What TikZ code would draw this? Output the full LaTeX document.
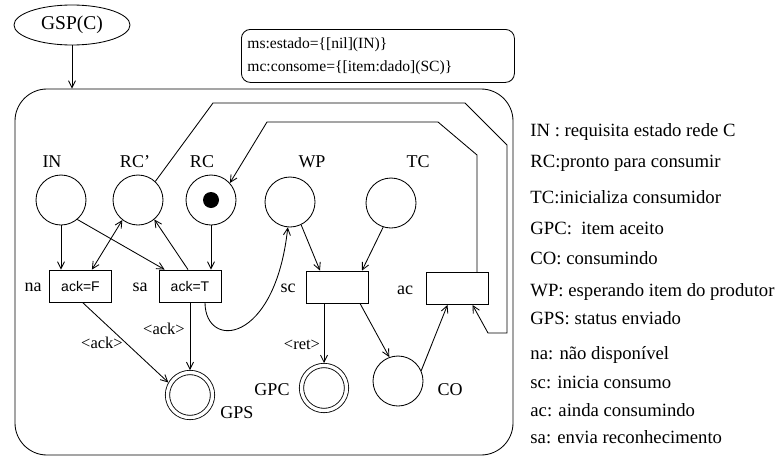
\documentclass[tikz,border=0pt]{standalone}
\usepackage{fontspec}
\setmainfont{Liberation Serif}
\setsansfont{Liberation Sans}
\usetikzlibrary{arrows.meta,calc,shapes.geometric}
\begin{document}
\begin{tikzpicture}[x=1pt,y=-1pt,line width=0.85pt,
  place/.style={circle,draw,minimum size=50pt,inner sep=0pt},
  final/.style={circle,draw,double,double distance=3.4pt,minimum size=45pt,inner sep=0pt,outer sep=2.5pt},
  trans/.style={rectangle,draw,minimum width=62pt,minimum height=32pt,inner sep=0pt,
    font=\sffamily\fontsize{14}{16}\selectfont},
  lbl/.style={font=\fontsize{18}{20}\selectfont,inner sep=0pt},
  arclbl/.style={font=\fontsize{16.5}{18}\selectfont,inner sep=0pt},
  legend/.style={anchor=west,font=\fontsize{18.7}{21}\selectfont,inner sep=0pt},
  arc/.style={-{Straight Barb[length=7pt,width=7pt]}},
  biarc/.style={{Straight Barb[length=7pt,width=7pt]}-{Straight Barb[length=7pt,width=7pt]}},
]
\useasboundingbox (0,0) rectangle (778,458);

% module header and declarations
\node[ellipse,draw,minimum width=116pt,minimum height=40pt,inner sep=0pt,
  font=\fontsize{19.5}{21}\selectfont] (gsp) at (72,25) {GSP(C)};
\node[draw,rounded corners=9pt,anchor=north west,minimum width=273pt,minimum height=53pt,
  inner xsep=6pt,align=left,text width=261pt,font=\fontsize{15.6}{23}\selectfont]
  (decl) at (241,29) {ms:estado=\{[nil](IN)\}\\mc:consome=\{[item:dado](SC)\}};

% enclosing net
\node[draw,rounded corners=32pt,minimum width=498pt,minimum height=366pt,inner sep=0pt]
  (net) at (264,272) {};
\draw[arc] (gsp.south) -- (gsp.south |- net.north);

% places
\node[place] (IN)  at (61,200) {};
\node[place] (RCp) at (138,200) {};
\node[place] (RC)  at (211,200) {};
\node[place] (WP)  at (290,202) {};
\node[place] (TC)  at (391,203) {};
\node[final] (GPS) at (190,395) {};
\node[final] (GPC) at (324,388) {};
\node[place] (CO)  at (398,381) {};
\fill (RC.center) circle[radius=8pt];

% transitions
\node[trans] (na) at (80.5,286) {ack=F};
\node[trans] (sa) at (190,286) {ack=T};
\node[trans] (sc) at (337,287) {};
\node[trans] (ac) at (457.5,288.5) {};

% names
\node[lbl] (lIN)  at (52,162)  {IN};
\node[lbl] (lRCp) at (135,162) {RC'};
\node[lbl] (lRC)  at (202,162) {RC};
\node[lbl] (lWP)  at (312,162) {WP};
\node[lbl] (lTC)  at (418,162) {TC};
\node[lbl] (lna)  at (33,287)  {na};
\node[lbl] (lsa)  at (140,287) {sa};
\node[lbl] (lsc)  at (288,288) {sc};
\node[lbl] (lac)  at (405,290) {ac};
\node[lbl] (lGPS) at (237,413) {GPS};
\node[lbl] (lGPC) at (272,390) {GPC};
\node[lbl] (lCO)  at (450,390) {CO};

% arcs
\draw[arc] (IN.south) -- (IN.south |- na.north);
\draw[arc] (IN.-50) -- ($(sa.north west)+(6,0)$);
\draw[biarc] (RCp.-128) -- ($(na.north east)+(-20,0)$);
\draw[arc] ($(sa.north)+(-2,0)$) -- (RCp.-50);
\draw[arc] (RC.south) -- (RC.south |- sa.north);
\draw[arc] (sa.south) -- (GPS.north);
\draw[arc] ($(na.south)+(2,0)$) -- (GPS.150);
\draw[arc] ($(sa.south)+(15,0)$) .. controls (205,350) and (275,345) .. (WP.-95);
\draw[arc] (WP.-64) -- ($(sc.north)+(-17,0)$);
\draw[arc] (TC.-108) -- ($(sc.north)+(25,0)$);
\draw[arc] (GPC.north |- sc.south) -- (GPC.north);
\draw[arc] ($(sc.south)+(23,0)$) -- (CO.110);
\draw[arc] (CO.24) -- ($(ac.south)+(-10,0)$);
\draw[arc] (RCp.47) -- (213,103) -- (465,103) -- (507,145) -- (507,333) -- (488,333)
  -- ($(ac.south)+(15,0)$);
\draw[arc] ($(ac.north)+(19.5,0)$) -- (477,155) -- (438,122) -- (267,122) -- (RC.42);

% arc inscriptions
\node[arclbl] (a1) at (102,343) {<ack>};
\node[arclbl] (a2) at (164,329) {<ack>};
\node[arclbl] (a3) at (302,345) {<ret>};

% legend
\node[legend] (g1)  at (530,132) {IN : requisita estado rede C};
\node[legend] (g2)  at (530,163) {RC:pronto para consumir};
\node[legend] (g3)  at (530,197) {TC:inicializa consumidor};
\node[legend] (g4)  at (530,228) {GPC:\ \ item aceito};
\node[legend] (g5)  at (530,258) {CO: consumindo};
\node[legend] (g6)  at (530,292) {WP: esperando item do produtor};
\node[legend] (g7)  at (530,318) {GPS: status enviado};
\node[legend] (g8)  at (530,355) {na: não disponível};
\node[legend] (g9)  at (530,382) {sc: inicia consumo};
\node[legend] (g10) at (530,410) {ac: ainda consumindo};
\node[legend] (g11) at (530,437) {sa: envia reconhecimento};
\end{tikzpicture}
\end{document}
